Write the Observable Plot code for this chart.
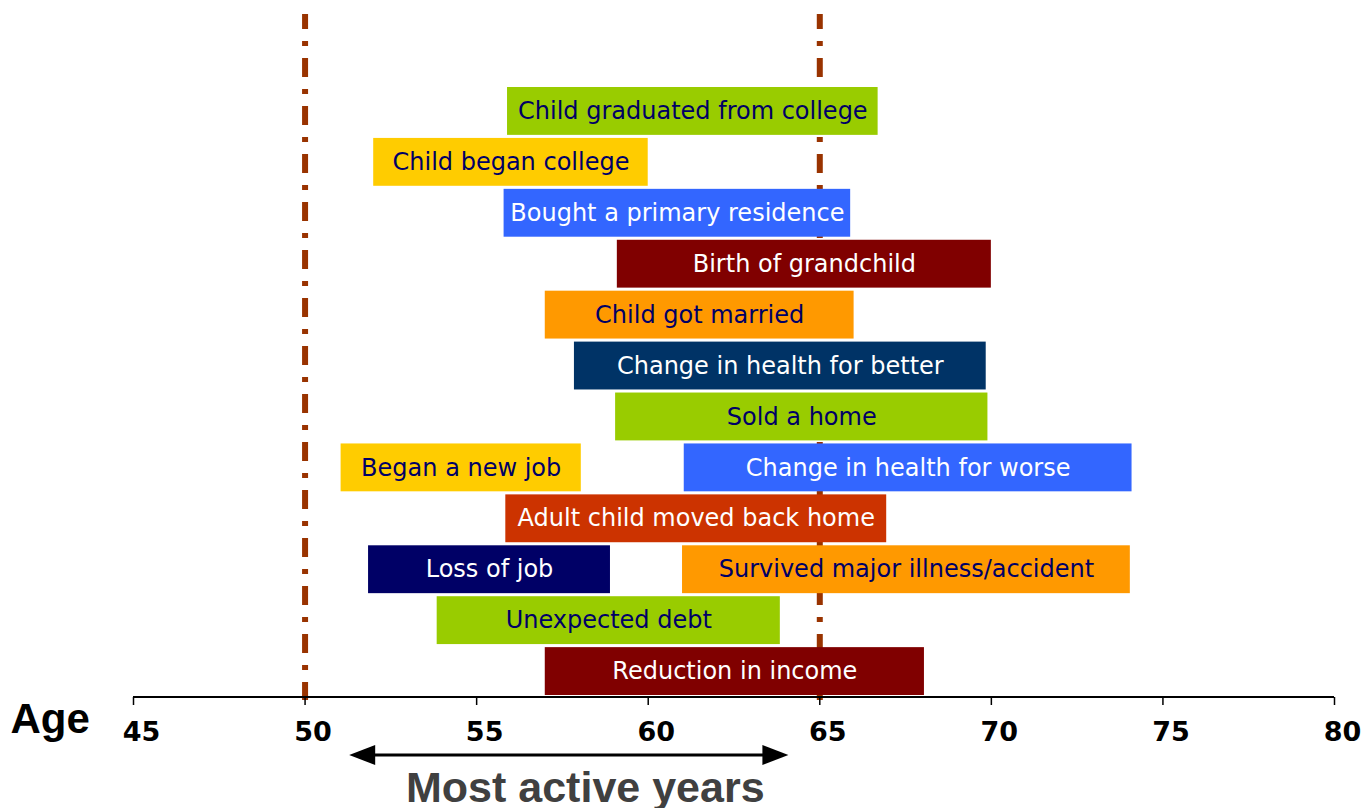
<!DOCTYPE html>
<html>
<head>
<meta charset="utf-8">
<script src="https://cdn.jsdelivr.net/npm/d3@7"></script>
<script src="https://cdn.jsdelivr.net/npm/@observablehq/plot@0.6"></script>
<style>
  html, body { margin: 0; padding: 0; background: #fff; }
</style>
</head>
<body>
<div id="chart"></div>
<script>
// ---- data ----
const events = [
  "Child graduated from college",
  "Child began college",
  "Bought a primary residence",
  "Birth of grandchild",
  "Child got married",
  "Change in health for better",
  "Sold a home",
  "Began a new job",
  "Change in health for worse",
  "Adult child moved back home",
  "Loss of job",
  "Survived major illness/accident",
  "Unexpected debt",
  "Reduction in income"
];
const startAges = [55.9, 52.0, 55.8, 59.1, 57.0, 57.85, 59.05, 51.05, 61.05, 55.85, 51.85, 61.0, 53.85, 57.0];
const endAges   = [66.7, 60.0, 65.9, 70.0, 66.0, 69.85, 69.9, 58.05, 74.1, 66.95, 58.9, 74.05, 63.85, 68.05];
const rowIds    = [1, 2, 3, 4, 5, 6, 7, 8, 8, 9, 10, 10, 11, 12];
const tickAges  = [45, 50, 55, 60, 65, 70, 75, 80];
const markerAges = [50, 65];
const activeYears = [51.3, 64.1];
const axisTitle = "Age";
const activeLabel = "Most active years";

// ---- styles ----
const barColors = ["#99CC00", "#FFCC00", "#3366FF", "#800000", "#FF9900", "#003366", "#99CC00",
                   "#FFCC00", "#3366FF", "#CC3300", "#000066", "#FF9900", "#99CC00", "#800000"];
const darkInk = "#000066";
const lightBars = new Set(["#99CC00", "#FFCC00", "#FF9900"]);

const table = events.map((e, i) => ({
  event: e,
  start: startAges[i],
  end: endAges[i],
  row: String(rowIds[i]),
  fill: barColors[i],
  ink: lightBars.has(barColors[i]) ? darkInk : "#ffffff"
}));

const rowDomain = [...new Set(rowIds.map(String))];

const W = 1372, H = 808, mL = 133, mR = 38, mT = 87, mB = 111;

const chart = Plot.plot({
  width: W,
  height: H,
  marginLeft: mL,
  marginRight: mR,
  marginTop: mT,
  marginBottom: mB,
  style: {background: "#fff", fontFamily: "DejaVu Sans"},
  x: {domain: [45, 80], axis: null},
  y: {domain: rowDomain, axis: null, paddingInner: 0.06, paddingOuter: 0, insetBottom: 2, round: false},
  color: {type: "identity"},
  marks: [
    Plot.ruleX(markerAges, {
      x: d => d,
      stroke: "#993300",
      strokeWidth: 6,
      strokeDasharray: "19,12,5,12",
      strokeDashoffset: 4,
      insetTop: -73,
      insetBottom: -3
    }),
    Plot.barX(table, {x1: "start", x2: "end", y: "row", fill: "fill"}),
    Plot.text(table, {
      x: d => (d.start + d.end) / 2,
      y: "row",
      text: "event",
      fill: "ink",
      fontSize: 24,
      fontFamily: "DejaVu Sans"
    }),
    Plot.axisX(tickAges, {
      anchor: "bottom", tickSize: 8, strokeWidth: 1.5, stroke: "black",
      tickFormat: () => ""
    }),
    Plot.axisX(tickAges, {
      anchor: "bottom", tickSize: 0, tickPadding: 24, dx: 8,
      fontSize: 27, fontWeight: "bold", fontFamily: "DejaVu Sans", fill: "black"
    }),
    Plot.text([axisTitle], {
      text: d => d,
      frameAnchor: "bottom-left",
      dx: -123, dy: 35,
      textAnchor: "start",
      fontSize: 42, fontWeight: "bold", fontFamily: "Liberation Sans", fill: "black"
    }),
    Plot.text([activeLabel], {
      text: d => d,
      x: () => (activeYears[0] + activeYears[1]) / 2,
      frameAnchor: "bottom",
      dx: 16, dy: 104,
      fontSize: 43, fontWeight: "bold", fontFamily: "Liberation Sans", fill: "#404040"
    })
  ]
});

// axis line and the double-headed arrow, placed with Plot's x scale
const xs = chart.scale("x");
const svg = d3.select(chart);
const yAxis = H - mB;
svg.append("line")
  .attr("x1", xs.apply(tickAges[0])).attr("x2", xs.apply(tickAges[tickAges.length - 1]))
  .attr("y1", yAxis).attr("y2", yAxis)
  .attr("stroke", "black").attr("stroke-width", 2);

const ay = yAxis + 58;
const ax1 = xs.apply(activeYears[0]), ax2 = xs.apply(activeYears[1]);
const headL = 26, headH = 10;
const g = svg.append("g");
g.append("line")
  .attr("x1", ax1 + headL - 1).attr("x2", ax2 - headL + 1)
  .attr("y1", ay).attr("y2", ay)
  .attr("stroke", "black").attr("stroke-width", 3);
g.append("path")
  .attr("d", `M${ax1},${ay}L${ax1 + headL},${ay - headH}L${ax1 + headL},${ay + headH}Z`)
  .attr("fill", "black");
g.append("path")
  .attr("d", `M${ax2},${ay}L${ax2 - headL},${ay - headH}L${ax2 - headL},${ay + headH}Z`)
  .attr("fill", "black");

document.getElementById("chart").appendChild(chart);
</script>
</body>
</html>
